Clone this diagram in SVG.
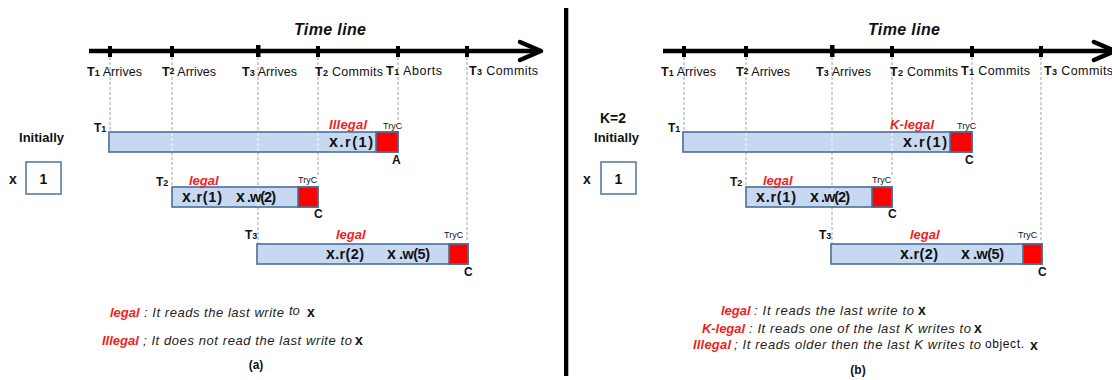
<svg xmlns="http://www.w3.org/2000/svg" width="1112" height="380" viewBox="0 0 1112 380">
  <style>
    text { font-family: "Liberation Sans", Arial, sans-serif; fill: #111; }
    .axis { stroke: #000; stroke-width: 4.5; fill: none; }
    .head { stroke: #000; stroke-width: 4.5; fill: none; stroke-linejoin: round; stroke-linecap: round; }
    .tick { fill: #000; }
    .guide { stroke: #a3a3a3; stroke-width: 1; stroke-dasharray: 3 2; fill: none; }
    .guide-in { stroke: #f2f6fc; stroke-width: 1.2; stroke-dasharray: 3 2; fill: none; }
    .bar { fill: #C6D9F1; stroke: #4A6E9B; stroke-width: 1.6; }
    .tryc { fill: #FF0000; stroke: #4A6E9B; stroke-width: 1.6; }
    .box { fill: #fff; stroke: #5B7BA6; stroke-width: 1.6; }
    .sep { fill: #000; }
    .title { font-size: 16px; font-weight: bold; font-style: italic; }
    .lbl { font-size: 12.5px; }
    .tn { font-weight: bold; }
    .sub { font-size: 9px; font-weight: bold; }
    .ok { fill: #F01E1E; font-size: 13px; font-weight: bold; font-style: italic; }
    .op { font-size: 14.5px; font-weight: bold; }
    .opx { font-size: 16px; font-weight: bold; }
    .small { font-size: 9px; }
    .res { font-size: 12px; font-weight: bold; }
    .head-lbl { font-size: 13px; font-weight: bold; }
    .val { font-size: 14px; font-weight: bold; }
    .leg { font-size: 13px; font-style: italic; fill: #222; }
    .legx { font-size: 14px; font-weight: bold; }
    .cap { font-size: 12px; font-weight: bold; }
  </style>

  <!-- panel divider -->
  <rect class="sep" x="564" y="8" width="4.3" height="368"/>

  <g id="connectors">
    <!-- (a) time axis -->
    <line class="axis" x1="89" y1="51" x2="538" y2="51"/>
    <path class="head" d="M520 42 L541 51 L520 60"/>
    <rect class="tick" x="108" y="46" width="4" height="11"/>
    <rect class="tick" x="170" y="46" width="4" height="11"/>
    <rect class="tick" x="256" y="45" width="4.5" height="12"/>
    <rect class="tick" x="316" y="46" width="4" height="11"/>
    <rect class="tick" x="396" y="46" width="4" height="11"/>
    <rect class="tick" x="465" y="46" width="4" height="11"/>
    <!-- (a) event guides -->
    <line class="guide" x1="110" y1="57" x2="110" y2="132"/>
    <line class="guide" x1="172" y1="57" x2="172" y2="187"/>
    <line class="guide" x1="258" y1="57" x2="258" y2="244"/>
    <line class="guide" x1="318" y1="57" x2="318" y2="177"/>
    <line class="guide" x1="398" y1="57" x2="398" y2="121"/>
    <line class="guide" x1="467" y1="57" x2="467" y2="240"/>

    <!-- (b) time axis -->
    <line class="axis" x1="663" y1="51" x2="1112" y2="51"/>
    <path class="head" d="M1094 42 L1115 51 L1094 60"/>
    <rect class="tick" x="682" y="46" width="4" height="11"/>
    <rect class="tick" x="744" y="46" width="4" height="11"/>
    <rect class="tick" x="830" y="45" width="4.5" height="12"/>
    <rect class="tick" x="890" y="46" width="4" height="11"/>
    <rect class="tick" x="970" y="46" width="4" height="11"/>
    <rect class="tick" x="1039" y="46" width="4" height="11"/>
    <!-- (b) event guides -->
    <line class="guide" x1="684" y1="57" x2="684" y2="132"/>
    <line class="guide" x1="746" y1="57" x2="746" y2="187"/>
    <line class="guide" x1="832" y1="57" x2="832" y2="244"/>
    <line class="guide" x1="892" y1="57" x2="892" y2="177"/>
    <line class="guide" x1="972" y1="57" x2="972" y2="121"/>
    <line class="guide" x1="1041" y1="57" x2="1041" y2="240"/>
  </g>

  <!-- ===================== (a) ===================== -->
  <g id="axis-labels-a">
    <text class="title" x="294" y="35" textLength="72">Time line</text>
    <text class="lbl" x="87" y="76" textLength="55"><tspan class="tn">T</tspan><tspan class="sub">1</tspan> Arrives</text>
    <text class="lbl" x="162" y="76" textLength="54"><tspan class="tn">T</tspan><tspan class="sub" dy="-2">2</tspan><tspan dy="2"> Arrives</tspan></text>
    <text class="lbl" x="242" y="76" textLength="55"><tspan class="tn">T</tspan><tspan class="sub">3</tspan> Arrives</text>
    <text class="lbl" x="315" y="76" textLength="68"><tspan class="tn">T</tspan><tspan class="sub">2</tspan> Commits</text>
    <text class="lbl" x="386" y="75" textLength="56"><tspan class="tn">T</tspan><tspan class="sub">1</tspan> Aborts</text>
    <text class="lbl" x="469" y="75" textLength="69"><tspan class="tn">T</tspan><tspan class="sub">3</tspan> Commits</text>
  </g>

  <g id="init-a">
    <text class="head-lbl" x="19" y="142" textLength="45">Initially</text>
    <text class="val" x="9" y="184">x</text>
    <rect class="box" x="26" y="162" width="35" height="32"/>
    <text class="val" x="43.5" y="184" text-anchor="middle">1</text>
  </g>

  <g id="t1-a">
    <rect class="bar" x="109" y="132" width="289" height="20"/>
    <line class="guide-in" x1="172" y1="133" x2="172" y2="151"/>
    <line class="guide-in" x1="258" y1="133" x2="258" y2="151"/>
    <line class="guide-in" x1="318" y1="133" x2="318" y2="151"/>
    <rect class="tryc" x="376" y="132" width="22" height="20"/>
    <text class="res" x="94" y="132"><tspan>T</tspan><tspan class="sub">1</tspan></text>
    <text class="ok" x="329" y="129" textLength="38">Illegal</text>
    <text class="small" x="383" y="129">TryC</text>
    <text class="op" x="329" y="147" textLength="44"><tspan class="opx">x</tspan>.r(1)</text>
    <text class="res" x="392" y="164">A</text>
  </g>

  <g id="t2-a">
    <rect class="bar" x="172" y="187" width="146" height="20"/>
    <line class="guide-in" x1="258" y1="188" x2="258" y2="206"/>
    <rect class="tryc" x="298" y="187" width="20" height="20"/>
    <text class="res" x="156" y="186"><tspan>T</tspan><tspan class="sub">2</tspan></text>
    <text class="ok" x="189" y="185">legal</text>
    <text class="small" x="298" y="183">TryC</text>
    <text class="op" x="182" y="202" textLength="40"><tspan class="opx">x</tspan>.r(1)</text>
    <text class="op" x="236" y="202" textLength="40"><tspan class="opx">x</tspan> .w(2)</text>
    <text class="res" x="314" y="218">C</text>
  </g>

  <g id="t3-a">
    <rect class="bar" x="257" y="244" width="211" height="20"/>
    <rect class="tryc" x="449" y="244" width="19" height="20"/>
    <text class="res" x="245" y="239"><tspan>T</tspan><tspan class="sub">3</tspan></text>
    <text class="ok" x="336" y="239">legal</text>
    <text class="small" x="444" y="238">TryC</text>
    <text class="op" x="326" y="259" textLength="38"><tspan class="opx">x</tspan>.r(2)</text>
    <text class="op" x="387" y="259" textLength="43"><tspan class="opx">x</tspan> .w(5)</text>
    <text class="res" x="464" y="276">C</text>
  </g>

  <g id="legend-a">
    <text class="ok" x="110" y="317">legal</text>
    <text class="leg" x="144" y="317" textLength="140">: It reads the last write</text>
    <text class="leg" x="289" y="315">to</text>
    <text class="legx" x="307" y="317">x</text>
    <text class="ok" x="102" y="345">Illegal</text>
    <text class="leg" x="143" y="345" textLength="209">; It does not read the last write to</text>
    <text class="legx" x="355" y="345">x</text>
    <text class="cap" x="256" y="369" text-anchor="middle">(a)</text>
  </g>

  <!-- ===================== (b) ===================== -->
  <g id="axis-labels-b">
    <text class="title" x="868" y="35" textLength="72">Time line</text>
    <text class="lbl" x="661" y="76" textLength="55"><tspan class="tn">T</tspan><tspan class="sub">1</tspan> Arrives</text>
    <text class="lbl" x="736" y="76" textLength="54"><tspan class="tn">T</tspan><tspan class="sub" dy="-2">2</tspan><tspan dy="2"> Arrives</tspan></text>
    <text class="lbl" x="816" y="76" textLength="55"><tspan class="tn">T</tspan><tspan class="sub">3</tspan> Arrives</text>
    <text class="lbl" x="890" y="76" textLength="68"><tspan class="tn">T</tspan><tspan class="sub">2</tspan> Commits</text>
    <text class="lbl" x="961" y="75" textLength="69"><tspan class="tn">T</tspan><tspan class="sub">1</tspan> Commits</text>
    <text class="lbl" x="1044" y="75" textLength="69"><tspan class="tn">T</tspan><tspan class="sub">3</tspan> Commits</text>
  </g>

  <g id="init-b">
    <text class="val" x="600" y="123">K=2</text>
    <text class="head-lbl" x="594" y="142" textLength="45">Initially</text>
    <text class="val" x="583" y="184">x</text>
    <rect class="box" x="601" y="162" width="35" height="32"/>
    <text class="val" x="618.5" y="184" text-anchor="middle">1</text>
  </g>

  <g id="t1-b">
    <rect class="bar" x="683" y="132" width="289" height="20"/>
    <line class="guide-in" x1="746" y1="133" x2="746" y2="151"/>
    <line class="guide-in" x1="832" y1="133" x2="832" y2="151"/>
    <line class="guide-in" x1="892" y1="133" x2="892" y2="151"/>
    <rect class="tryc" x="950" y="132" width="22" height="20"/>
    <text class="res" x="668" y="132"><tspan>T</tspan><tspan class="sub">1</tspan></text>
    <text class="ok" x="890" y="129" textLength="44">K-legal</text>
    <text class="small" x="957" y="129">TryC</text>
    <text class="op" x="903" y="147" textLength="44"><tspan class="opx">x</tspan>.r(1)</text>
    <text class="res" x="965" y="164">C</text>
  </g>

  <g id="t2-b">
    <rect class="bar" x="746" y="187" width="146" height="20"/>
    <line class="guide-in" x1="832" y1="188" x2="832" y2="206"/>
    <rect class="tryc" x="872" y="187" width="20" height="20"/>
    <text class="res" x="730" y="186"><tspan>T</tspan><tspan class="sub">2</tspan></text>
    <text class="ok" x="763" y="185">legal</text>
    <text class="small" x="872" y="183">TryC</text>
    <text class="op" x="756" y="202" textLength="40"><tspan class="opx">x</tspan>.r(1)</text>
    <text class="op" x="810" y="202" textLength="40"><tspan class="opx">x</tspan> .w(2)</text>
    <text class="res" x="888" y="218">C</text>
  </g>

  <g id="t3-b">
    <rect class="bar" x="831" y="244" width="211" height="20"/>
    <rect class="tryc" x="1023" y="244" width="19" height="20"/>
    <text class="res" x="819" y="239"><tspan>T</tspan><tspan class="sub">3</tspan></text>
    <text class="ok" x="910" y="239">legal</text>
    <text class="small" x="1018" y="238">TryC</text>
    <text class="op" x="900" y="259" textLength="38"><tspan class="opx">x</tspan>.r(2)</text>
    <text class="op" x="961" y="259" textLength="43"><tspan class="opx">x</tspan> .w(5)</text>
    <text class="res" x="1038" y="276">C</text>
  </g>

  <g id="legend-b">
    <text class="ok" x="721" y="315">legal</text>
    <text class="leg" x="754" y="315" textLength="160">: It reads the last write to</text>
    <text class="legx" x="918" y="315">x</text>
    <text class="ok" x="702" y="333" textLength="43">K-legal</text>
    <text class="leg" x="749" y="333" textLength="222">: It reads one of the last K writes to</text>
    <text class="legx" x="974" y="333">x</text>
    <text class="ok" x="693" y="349" textLength="38">Illegal</text>
    <text class="leg" x="734" y="349" textLength="247">; It reads older then the last K writes to</text>
    <text x="985" y="348" font-size="12" textLength="39">object.</text>
    <text class="legx" x="1030" y="350">x</text>
    <text class="cap" x="858" y="374" text-anchor="middle">(b)</text>
  </g>
</svg>
